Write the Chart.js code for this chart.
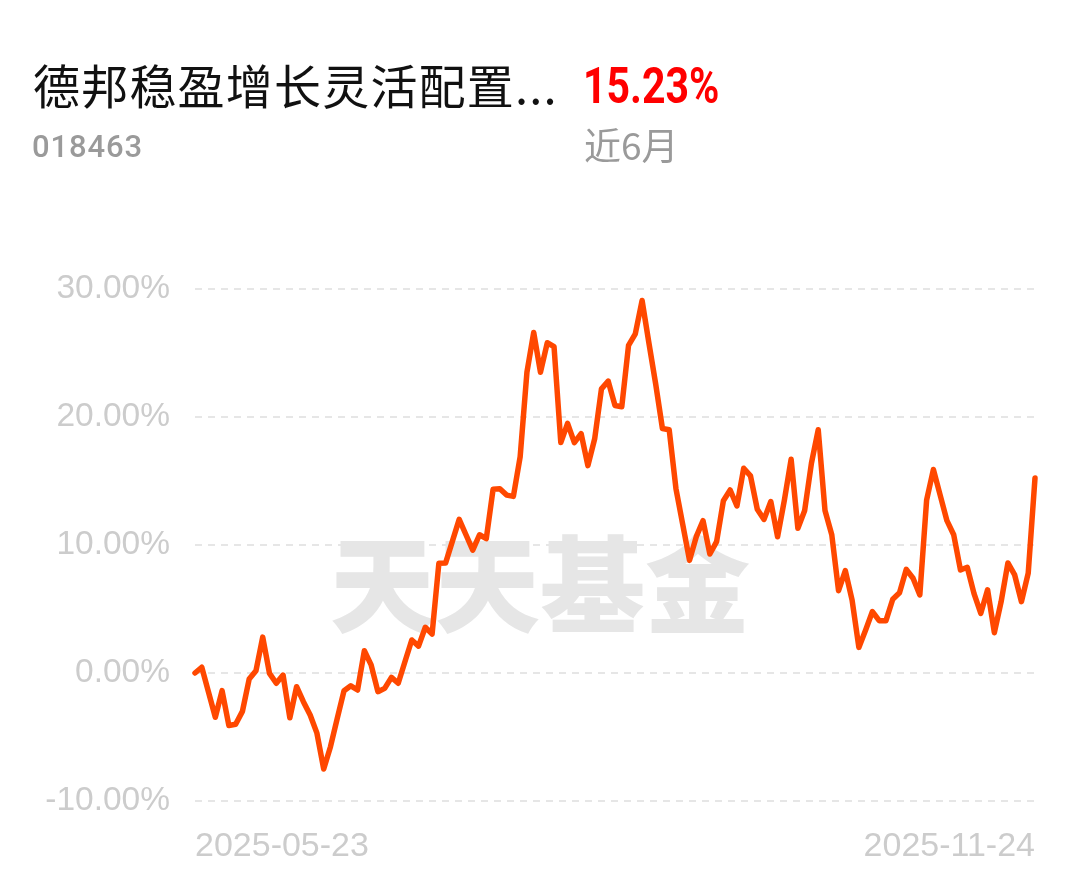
<!DOCTYPE html>
<html>
<head>
<meta charset="utf-8">
<script src="https://cdn.jsdelivr.net/npm/chart.js@4.4.1/dist/chart.umd.min.js"></script>
<style>
  html, body { margin: 0; padding: 0; background: #ffffff; }
  body { width: 1080px; height: 878px; position: relative; overflow: hidden; }
  #chartWrap { position: absolute; left: 0; top: 0; width: 1080px; height: 878px; }
  .t { position: absolute; white-space: nowrap; line-height: 1; }
  #title { left: 33px; top: 60px; font-size: 47px; color: #111; font-family: "Noto Sans CJK SC", sans-serif; letter-spacing: 1.2px; }
  #ret { left: 583px; top: 61px; font-size: 50px; color: #ff0000; font-family: Roboto, sans-serif; font-weight: 700; transform: scaleX(0.82); transform-origin: left top; }
  #code { left: 32px; top: 131px; font-size: 31px; color: #9a9a9a; font-family: Roboto, sans-serif; font-weight: 500; letter-spacing: 0.9px; }
  #period { left: 584px; top: 126px; font-size: 37px; color: #9a9a9a; font-family: "Noto Sans CJK SC", sans-serif; }
</style>
</head>
<body>
<div id="chartWrap"><canvas id="c" width="1080" height="878"></canvas></div>
<div class="t" id="title">德邦稳盈增长灵活配置...</div>
<div class="t" id="ret">15.23%</div>
<div class="t" id="code">018463</div>
<div class="t" id="period">近6月</div>
<script>
// ---- data ----
const startDate = "2025-05-23";
const endDate = "2025-11-24";
const holidays = ["2025-06-02", "2025-10-01", "2025-10-02", "2025-10-03", "2025-10-06", "2025-10-07", "2025-10-08"];
const yTicks = [-10, 0, 10, 20, 30];
const returns = [
  0.0, 0.45, -1.5, -3.46, -1.38, -4.1, -4.0, -3.0, -0.47, 0.18,
  2.8, -0.03, -0.8, -0.16, -3.5, -1.07, -2.24, -3.28, -4.7, -7.5,
  -5.76, -3.54, -1.38, -1.0, -1.33, 1.74, 0.63, -1.46, -1.2, -0.34,
  -0.8, 0.9, 2.58, 2.1, 3.57, 3.05, 8.57, 8.6, 10.3, 12.0,
  10.8, 9.6, 10.8, 10.5, 14.35, 14.4, 13.9, 13.8, 16.9, 23.5,
  26.6, 23.5, 25.8, 25.5, 18.0, 19.5, 18.0, 18.7, 16.2, 18.3,
  22.2, 22.8, 20.9, 20.8, 25.6, 26.5, 29.1, 25.8, 22.6, 19.1,
  19.0, 14.4, 11.6, 8.8, 10.65, 11.9, 9.3, 10.26, 13.46, 14.3,
  13.05, 16.0, 15.4, 12.8, 12.0, 13.4, 10.65, 13.5, 16.7, 11.3,
  12.7, 16.4, 19.0, 12.7, 10.8, 6.43, 8.0, 5.7, 2.0, 3.36,
  4.8, 4.09, 4.09, 5.76, 6.27, 8.1, 7.4, 6.1, 13.5, 15.9,
  13.9, 11.9, 10.8, 8.05, 8.26, 6.2, 4.66, 6.5, 3.15, 5.57,
  8.6, 7.66, 5.57, 7.8, 15.23
];

// trading days (weekdays minus holidays) between start and end
function tradingDays(s, e, hol) {
  const out = [];
  const d = new Date(s + "T00:00:00Z");
  const end = new Date(e + "T00:00:00Z");
  while (d <= end) {
    const iso = d.toISOString().slice(0, 10);
    const wd = d.getUTCDay();
    if (wd !== 0 && wd !== 6 && hol.indexOf(iso) < 0) out.push(iso);
    d.setUTCDate(d.getUTCDate() + 1);
  }
  return out;
}
let categories = tradingDays(startDate, endDate, holidays);
if (categories.length !== returns.length) {
  categories = returns.map((_, i) => i === 0 ? startDate : (i === returns.length - 1 ? endDate : ""));
}

const watermark = {
  id: 'watermark',
  beforeDraw(chart) {
    const ctx = chart.ctx;
    ctx.save();
    ctx.font = '900 105px "Noto Sans CJK SC"';
    ctx.fillStyle = '#e6e6e6';
    ctx.textAlign = 'center';
    ctx.textBaseline = 'middle';
    ctx.fillText('天天基金', 540, 584);
    ctx.restore();
  }
};

new Chart(document.getElementById('c'), {
  type: 'line',
  data: {
    labels: categories,
    datasets: [{
      data: returns,
      borderColor: '#ff4800',
      borderWidth: 5.5,
      pointRadius: 0,
      pointHoverRadius: 0,
      tension: 0,
      borderJoinStyle: 'round',
      borderCapStyle: 'round',
      fill: false,
      clip: 8
    }]
  },
  options: {
    responsive: false,
    animation: false,
    events: [],
    layout: { padding: { top: 289, right: 45, left: 0, bottom: 0 } },
    plugins: { legend: { display: false }, tooltip: { enabled: false } },
    scales: {
      x: {
        type: 'category',
        offset: false,
        grid: { display: false, drawTicks: false },
        border: { display: false },
        afterFit(scale) { scale.height = 77; },
        afterBuildTicks(scale) {
          const t = scale.ticks;
          scale.ticks = [t[0], t[t.length - 1]];
        },
        ticks: {
          autoSkip: false,
          maxRotation: 0,
          align: 'inner',
          padding: 25,
          color: '#cccccc',
          font: { family: '"Liberation Sans", Arial, sans-serif', size: 34 }
        }
      },
      y: {
        min: -10,
        max: 30,
        afterFit(scale) { scale.width = 195; },
        afterBuildTicks(scale) { scale.ticks = yTicks.map(v => ({ value: v })); },
        grid: { color: '#e6e6e6', lineWidth: 2, drawTicks: false },
        border: { display: false, dash: [7, 6] },
        ticks: {
          padding: 25,
          color: '#cccccc',
          font: { family: '"Liberation Sans", Arial, sans-serif', size: 33.5 },
          callback: v => v.toFixed(2) + '%'
        }
      }
    }
  },
  plugins: [watermark]
});
</script>
</body>
</html>
